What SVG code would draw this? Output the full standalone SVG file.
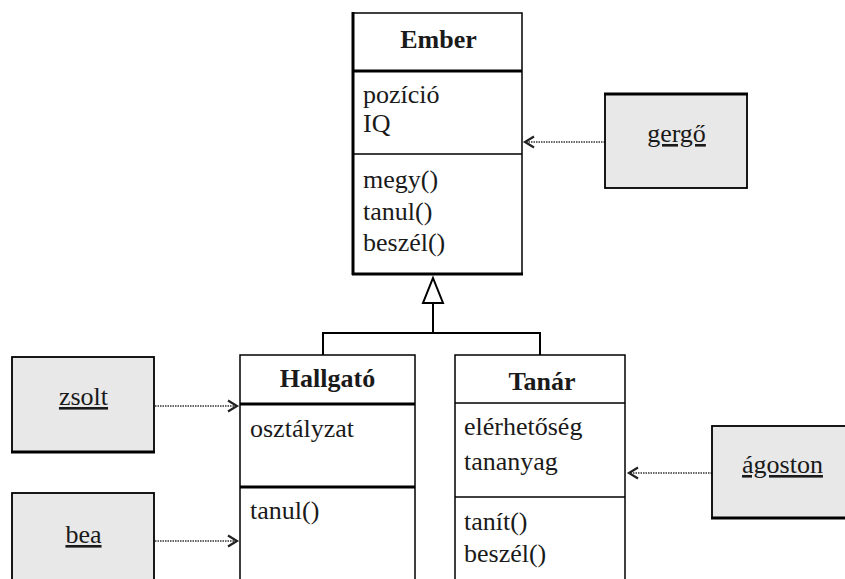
<svg xmlns="http://www.w3.org/2000/svg" width="845" height="579" viewBox="0 0 845 579">
  <style>
    .box { fill: #ffffff; stroke: #000000; stroke-width: 1.5; }
    .inst { fill: #e8e8e8; stroke: #000000; stroke-width: 1.8; }
    .thick { stroke: #000000; stroke-width: 3; fill: none; }
    .thin { stroke: #000000; stroke-width: 1.5; fill: none; }
    .b { font-weight: bold; }
    .u { text-decoration: underline; }
    .m { text-anchor: middle; }
    .dep { stroke: #333333; stroke-width: 1.5; stroke-dasharray: 1.5 1; fill: none; }
    .gen { stroke: #000000; stroke-width: 2; fill: none; }
  </style>
  <defs>
    <marker id="open" markerUnits="userSpaceOnUse" markerWidth="14" markerHeight="16" refX="10" refY="7" orient="auto">
      <path d="M1,1.5 L10,7 L1,12.5" fill="none" stroke="#222222" stroke-width="2.2"/>
    </marker>
  </defs>
  <rect width="845" height="579" fill="#ffffff"/>

  <g id="connectors">
    <line class="dep" x1="605" y1="142" x2="525" y2="142" marker-end="url(#open)"/>
    <line class="dep" x1="155" y1="406" x2="237" y2="406" marker-end="url(#open)"/>
    <line class="dep" x1="155" y1="541" x2="237" y2="541" marker-end="url(#open)"/>
    <line class="dep" x1="712" y1="473" x2="629" y2="473" marker-end="url(#open)"/>
    <g id="generalization">
      <polyline class="gen" points="323,355 323,333 540,333 540,355"/>
      <line class="gen" x1="433" y1="333" x2="433" y2="303"/>
      <polygon points="433,278 443,303 423,303" fill="#ffffff" stroke="#000000" stroke-width="2" stroke-linejoin="miter"/>
    </g>
  </g>

  <g font-family="Liberation Serif, Times New Roman, serif" font-size="26" fill="#1a1a1a">
  <g id="ember">
    <rect class="box" x="353" y="13" width="169" height="261"/>
    <line class="thick" x1="353" y1="71" x2="522" y2="71"/>
    <line class="thin" x1="353" y1="154" x2="522" y2="154"/>
    <line class="thick" x1="353" y1="12" x2="353" y2="275"/>
    <line class="thick" x1="352" y1="274" x2="523" y2="274"/>
    <text class="b m" x="438.5" y="48">Ember</text>
    <text x="363" y="103">pozíció</text>
    <text x="363" y="132">IQ</text>
    <text x="363" y="188">megy()</text>
    <text x="363" y="220">tanul()</text>
    <text x="363" y="251">beszél()</text>
  </g>

  <g id="hallgato">
    <rect class="box" x="240" y="355" width="175" height="240"/>
    <line class="thick" x1="240" y1="404" x2="415" y2="404"/>
    <line class="thick" x1="240" y1="487" x2="415" y2="487"/>
    <text class="b m" x="327.5" y="387">Hallgató</text>
    <text x="250" y="437">osztályzat</text>
    <text x="250" y="519">tanul()</text>
  </g>

  <g id="tanar">
    <rect class="box" x="455" y="355" width="170" height="240"/>
    <line class="thin" x1="455" y1="403" x2="625" y2="403"/>
    <line class="thin" x1="455" y1="497" x2="625" y2="497"/>
    <text class="b m" x="542" y="390">Tanár</text>
    <text x="464" y="435">elérhetőség</text>
    <text x="464" y="470">tananyag</text>
    <text x="464" y="530">tanít()</text>
    <text x="464" y="562">beszél()</text>
  </g>

  <g id="gergo">
    <rect class="inst" x="605" y="94" width="142" height="94"/>
    <line class="thick" x1="604" y1="94" x2="748" y2="94"/>
    <text class="u m" x="676.5" y="142">gergő</text>
  </g>

  <g id="zsolt">
    <rect class="inst" x="12" y="357" width="142" height="95"/>
    <line class="thick" x1="11" y1="452" x2="155" y2="452"/>
    <text class="u m" x="83.5" y="405">zsolt</text>
  </g>

  <g id="bea">
    <rect class="inst" x="12" y="493" width="142" height="100"/>
    <text class="u m" x="83.5" y="543">bea</text>
  </g>

  <g id="agoston">
    <rect class="inst" x="712" y="426" width="140" height="92"/>
    <line class="thick" x1="711" y1="518" x2="850" y2="518"/>
    <text class="u m" x="782.5" y="473">ágoston</text>
  </g>
  </g>
</svg>
